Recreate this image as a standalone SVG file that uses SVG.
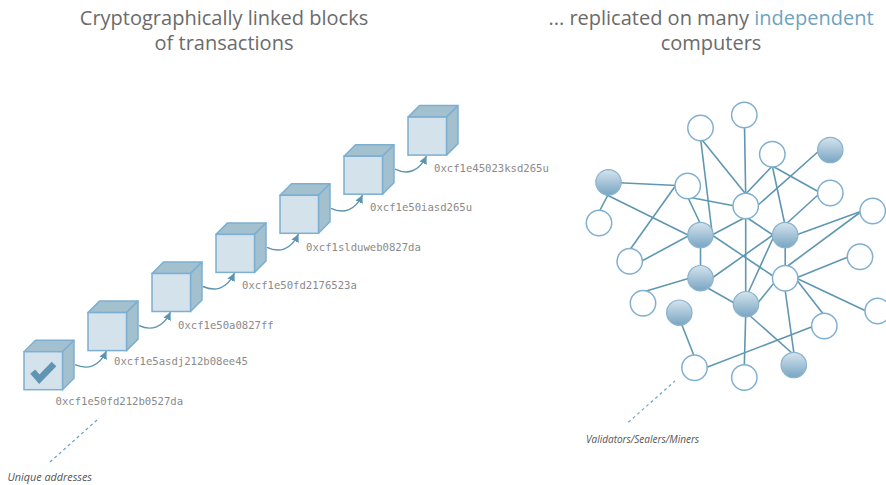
<svg xmlns="http://www.w3.org/2000/svg" xmlns:xlink="http://www.w3.org/1999/xlink" width="886" height="485" viewBox="0 0 886 485">
<defs>
<style>
.title{font-family:"Open Sans","Noto Sans",sans-serif;font-size:20px;fill:#6b6b6b;text-anchor:middle}
.hl{fill:#6fa3c0}
.addr{font-family:"DejaVu Sans Mono","Liberation Mono",monospace;font-size:10.6px;fill:#8a8a8a}
.note{font-family:"Open Sans","Noto Sans",sans-serif;font-size:10px;font-style:italic;fill:#555}
.front{fill:#d4e2eb;stroke:#7cafd1;stroke-width:1.5}
.side{fill:#a3c0cf;stroke:#7cafd1;stroke-width:1.5;stroke-linejoin:round}
.arrow{fill:none;stroke:#5d94b1;stroke-width:1.4}
.edge{stroke:#5f97b1;stroke-width:1.6;fill:none}
.wn{fill:#fff;stroke:#80b0d0;stroke-width:1.5}
.fn{fill:url(#fg);stroke:#8ab3cd;stroke-width:1.2}
.dash{stroke:#6fa3c0;stroke-width:1.2;stroke-dasharray:3 3;fill:none}
</style>
<linearGradient id="fg" x1="0" y1="0" x2="0" y2="1">
<stop offset="0" stop-color="#d5e4ed"/>
<stop offset="1" stop-color="#78a5c3"/>
</linearGradient>
<marker id="ah" markerUnits="userSpaceOnUse" markerWidth="10" markerHeight="10" refX="8" refY="4" orient="auto">
<path d="M0,0 L8,4 L0,8 z" fill="#5d94b1"/>
</marker>
<g id="cube">
<polygon class="side" points="0,0 11.5,-11.5 50,-11.5 38.5,0"/>
<polygon class="side" points="38.5,0 50,-11.5 50,26.5 38.5,38"/>
<rect class="front" x="0" y="0" width="38.5" height="38"/>
</g>
</defs>

<text class="title" x="224" y="25">Cryptographically linked blocks</text>
<text class="title" x="224" y="50">of transactions</text>
<text class="title" x="711" y="25">... replicated on many <tspan class="hl">independent</tspan></text>
<text class="title" x="711" y="50">computers</text>

<g id="chain-arrows">
<path class="arrow" marker-end="url(#ah)" d="M75,364.7 C87,370 99,367 106.5,351"/>
<path class="arrow" marker-end="url(#ah)" d="M139,325.6 C151,331 163,328 170.5,312"/>
<path class="arrow" marker-end="url(#ah)" d="M203,286.5 C215,292 227,289 234.5,273"/>
<path class="arrow" marker-end="url(#ah)" d="M267,247.4 C279,253 291,250 298.5,234"/>
<path class="arrow" marker-end="url(#ah)" d="M331,208.3 C343,214 355,211 362.5,195"/>
<path class="arrow" marker-end="url(#ah)" d="M395,169.2 C407,175 419,172 426.5,156"/>
</g>

<g id="block1" transform="translate(24,351.7)">
<use xlink:href="#cube"/>
<polyline points="8.7,20 15.3,27.5 30,12.3" fill="none" stroke="#5f95b3" stroke-width="6.5"/>
</g>
<g id="block2" transform="translate(88,312.6)"><use xlink:href="#cube"/></g>
<g id="block3" transform="translate(152,273.5)"><use xlink:href="#cube"/></g>
<g id="block4" transform="translate(216,234.4)"><use xlink:href="#cube"/></g>
<g id="block5" transform="translate(280,195.3)"><use xlink:href="#cube"/></g>
<g id="block6" transform="translate(344,156.2)"><use xlink:href="#cube"/></g>
<g id="block7" transform="translate(408,117.1)"><use xlink:href="#cube"/></g>

<g id="addresses">
<text class="addr" x="55.5" y="405">0xcf1e50fd212b0527da</text>
<text class="addr" x="114" y="365">0xcf1e5asdj212b08ee45</text>
<text class="addr" x="178" y="328.5">0xcf1e50a0827ff</text>
<text class="addr" x="242" y="288.5">0xcf1e50fd2176523a</text>
<text class="addr" x="306" y="251">0xcf1slduweb0827da</text>
<text class="addr" x="370" y="211">0xcf1e50iasd265u</text>
<text class="addr" x="434" y="171.5">0xcf1e45023ksd265u</text>
</g>

<g id="network-edges">
<line class="edge" x1="608.5" y1="182.3" x2="687.7" y2="186"/>
<line class="edge" x1="609" y1="193" x2="599" y2="212"/>
<line class="edge" x1="606" y1="194.5" x2="692" y2="237"/>
<line class="edge" x1="676" y1="185" x2="629.7" y2="250"/>
<line class="edge" x1="687.7" y1="197" x2="735" y2="206"/>
<line class="edge" x1="687.7" y1="197" x2="700.5" y2="224"/>
<line class="edge" x1="700.5" y1="138" x2="712" y2="232"/>
<line class="edge" x1="700.5" y1="138" x2="745.7" y2="194"/>
<line class="edge" x1="640" y1="262" x2="690" y2="235"/>
<line class="edge" x1="700.5" y1="240" x2="700.5" y2="275"/>
<line class="edge" x1="690" y1="278" x2="643" y2="292"/>
<line class="edge" x1="706" y1="287" x2="736" y2="304"/>
<line class="edge" x1="680" y1="320" x2="694.5" y2="357"/>
<line class="edge" x1="705" y1="368" x2="814" y2="326"/>
<line class="edge" x1="712" y1="235" x2="746" y2="217"/>
<line class="edge" x1="746" y1="217" x2="773" y2="235"/>
<line class="edge" x1="712" y1="235" x2="773" y2="276"/>
<line class="edge" x1="712" y1="278" x2="773" y2="235"/>
<line class="edge" x1="744.3" y1="115" x2="745.7" y2="195"/>
<line class="edge" x1="772.3" y1="166" x2="745.7" y2="194"/>
<line class="edge" x1="772.3" y1="166" x2="819" y2="192"/>
<line class="edge" x1="772.3" y1="166" x2="785" y2="225"/>
<line class="edge" x1="820" y1="150" x2="757" y2="206"/>
<line class="edge" x1="819" y1="194" x2="785" y2="225"/>
<line class="edge" x1="796" y1="235" x2="862" y2="211"/>
<line class="edge" x1="862" y1="211" x2="785" y2="268"/>
<line class="edge" x1="785.2" y1="245" x2="785.2" y2="268"/>
<line class="edge" x1="745.7" y1="216" x2="745.7" y2="292"/>
<line class="edge" x1="748.5" y1="292" x2="774" y2="236"/>
<line class="edge" x1="757" y1="304" x2="774" y2="283"/>
<line class="edge" x1="796" y1="278" x2="848" y2="257"/>
<line class="edge" x1="796" y1="278" x2="866" y2="311"/>
<line class="edge" x1="796" y1="279" x2="824" y2="315"/>
<line class="edge" x1="785" y1="289" x2="794" y2="354"/>
<line class="edge" x1="748" y1="314" x2="793" y2="354"/>
<line class="edge" x1="745.7" y1="315" x2="744.3" y2="366"/>
</g>

<g id="nA"><circle class="wn" cx="744.3" cy="115" r="12.7"/></g>
<g id="nB"><circle class="wn" cx="700.5" cy="128" r="12.7"/></g>
<g id="nC"><circle class="wn" cx="772.3" cy="154.3" r="12.7"/></g>
<g id="nD"><circle class="fn" cx="830.3" cy="150" r="12.7"/></g>
<g id="nE"><circle class="fn" cx="608.5" cy="182.3" r="12.7"/></g>
<g id="nF"><circle class="wn" cx="687.7" cy="186" r="12.7"/></g>
<g id="nG"><circle class="wn" cx="745.7" cy="206" r="12.7"/></g>
<g id="nH"><circle class="wn" cx="830.3" cy="193" r="12.7"/></g>
<g id="nI"><circle class="wn" cx="599" cy="223" r="12.7"/></g>
<g id="nJ"><circle class="fn" cx="700.5" cy="235" r="12.7"/></g>
<g id="nK"><circle class="fn" cx="785.2" cy="235" r="12.7"/></g>
<g id="nL"><circle class="wn" cx="872.7" cy="211" r="12.7"/></g>
<g id="nM"><circle class="wn" cx="629.7" cy="261.3" r="12.7"/></g>
<g id="nN"><circle class="wn" cx="860" cy="256.7" r="12.7"/></g>
<g id="nO"><circle class="fn" cx="700.5" cy="278.2" r="12.7"/></g>
<g id="nP"><circle class="wn" cx="785.2" cy="278.3" r="12.7"/></g>
<g id="nQ"><circle class="wn" cx="643" cy="303.3" r="12.7"/></g>
<g id="nR"><circle class="fn" cx="746" cy="304.2" r="12.7"/></g>
<g id="nS"><circle class="fn" cx="679.3" cy="312.7" r="12.7"/></g>
<g id="nT"><circle class="wn" cx="877.7" cy="311" r="12.7"/></g>
<g id="nU"><circle class="wn" cx="824.3" cy="326" r="12.7"/></g>
<g id="nV"><circle class="wn" cx="694.5" cy="367.7" r="12.7"/></g>
<g id="nW"><circle class="wn" cx="744.3" cy="377.5" r="12.7"/></g>
<g id="nX"><circle class="fn" cx="793.8" cy="365" r="12.7"/></g>

<g id="annotations">
<line class="dash" x1="50" y1="462" x2="97" y2="420"/>
<text class="note" x="7.5" y="481" style="font-size:10.8px">Unique addresses</text>
<line class="dash" x1="628.3" y1="422.3" x2="675" y2="381"/>
<text class="note" x="586" y="442.5">Validators/Sealers/Miners</text>
</g>
</svg>
